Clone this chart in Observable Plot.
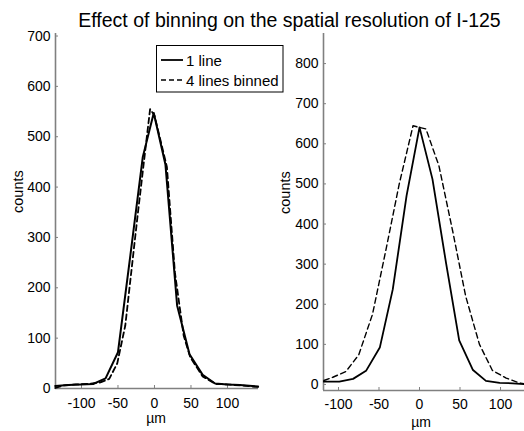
<!DOCTYPE html>
<html><head><meta charset="utf-8">
<script src="https://cdn.jsdelivr.net/npm/d3@7"></script>
<script src="https://cdn.jsdelivr.net/npm/@observablehq/plot@0.6"></script>
<style>
html,body{margin:0;padding:0;background:#fff;overflow:hidden;}
#wrap{position:relative;width:524px;height:431px;font-family:"Liberation Sans",Arial,Helvetica,sans-serif;}
#title{position:absolute;left:56px;top:11px;width:467px;text-align:center;font-size:19.5px;line-height:19px;white-space:nowrap;color:#000;}
.panel{position:absolute;top:0;max-width:none !important;}
#legend{position:absolute;left:156px;top:45px;}
#legend text{font-size:15px;font-family:"Liberation Sans",Arial,Helvetica,sans-serif;}
</style></head><body>
<div id="wrap"><div id="title">Effect of binning on the spatial resolution of I-125</div></div>
<script>
// ---- data ----
const titleText = "Effect of binning on the spatial resolution of I-125";
const seriesNames = ["1 line", "4 lines binned"];
const xTicks = [-100, -50, 0, 50, 100];
const leftYTicks = [0, 100, 200, 300, 400, 500, 600, 700];
const rightYTicks = [0, 100, 200, 300, 400, 500, 600, 700, 800];

const leftSingleX = [-136, -118, -101, -84, -67, -50, -33, -16, -1, 15, 31, 48, 66, 83, 100, 117, 134, 142];
const leftSingleCounts = [5, 7, 8, 9, 20, 72, 265, 460, 547, 445, 165, 68, 27, 10, 8, 7, 5, 4];
const leftBinnedX = [-136, -125, -108, -91, -74, -62, -51, -40, -23, -6, 0, 17, 28, 40, 49, 66, 84, 101, 118, 142];
const leftBinnedCounts = [1, 6, 8, 9, 12, 19, 50, 125, 345, 555, 542, 440, 230, 105, 62, 24, 9, 8, 6, 3];

const rightSingleX = [-118, -99, -82, -66, -49, -33, -16, 0, 16, 33, 49, 66, 82, 99, 115, 129];
const rightSingleCounts = [7, 7, 14, 34, 92, 237, 470, 641, 512, 300, 110, 36, 9, 4, 3, 1];
const rightBinnedX = [-118, -107, -91, -75, -58, -41, -25, -8, 8, 24, 41, 57, 74, 90, 107, 123, 129];
const rightBinnedCounts = [10, 18, 32, 74, 175, 340, 500, 645, 637, 545, 382, 220, 100, 35, 16, 4, 2];

const xLabel = "µm";
const yLabel = "counts";

// ---- drawing ----
const FONT = "'Liberation Sans', Arial, Helvetica, sans-serif";
const AXIS = "#808080";

function panel(o) {
  const single = o.sx.map((x, i) => ({x, y: o.sy[i]}));
  const binned = o.bx.map((x, i) => ({x, y: o.by[i]}));
  return Plot.plot({
    width: o.width, height: 431,
    marginLeft: o.ml, marginRight: o.mr, marginTop: o.mt, marginBottom: o.mb,
    style: {fontFamily: FONT, fontSize: "14px", background: "transparent", color: "black", overflow: "visible"},
    x: {domain: o.xDomain},
    y: {domain: o.yDomain},
    marks: [
      Plot.ruleX([o.xDomain[0]], {stroke: AXIS, strokeWidth: 1.6}),
      Plot.ruleY([o.yDomain[0]], {stroke: AXIS, strokeWidth: 1.6}),
      Plot.axisX({ticks: xTicks, tickSize: 0, tickPadding: o.xpad, tickFormat: d => String(d), label: null, fontSize: 14}),
      Plot.axisX({ticks: xTicks, tickSize: 3, dy: -3, text: null, label: null, stroke: AXIS}),
      Plot.axisY({ticks: o.yTicks, tickSize: 0, tickPadding: 5, tickFormat: d => String(d), label: null, fontSize: 14}),
      Plot.axisY({ticks: o.yTicks, tickSize: 3, dx: 3, text: null, label: null, stroke: AXIS}),
      Plot.line(binned, {x: "x", y: "y", stroke: "black", strokeWidth: o.wb, strokeDasharray: "5.5,3.5"}),
      Plot.line(single, {x: "x", y: "y", stroke: "black", strokeWidth: o.ws}),
      Plot.text([yLabel], {text: d => d, frameAnchor: "left", dx: o.ylx, dy: 2, rotate: -90, fontSize: 14.5}),
      Plot.text([xLabel], {text: d => d, frameAnchor: "bottom", dy: o.xly, dx: o.xlx, fontSize: 14})
    ]
  });
}

const wrap = document.getElementById("wrap");

const left = panel({
  width: 262, ml: 55, mr: 4, mt: 33, mb: 43,
  xDomain: [-135.6, 142.5], yDomain: [0, 705], yTicks: leftYTicks,
  sx: leftSingleX, sy: leftSingleCounts, bx: leftBinnedX, by: leftBinnedCounts,
  ws: 2, wb: 1.8, xpad: 10, ylx: -37, xlx: -1, xly: 34.5
});
left.classList.add("panel");
left.style.left = "0px";
wrap.appendChild(left);

const right = panel({
  width: 262, ml: 61, mr: 0, mt: 33, mb: 41,
  xDomain: [-118.5, 129.6], yDomain: [-15, 875], yTicks: rightYTicks,
  sx: rightSingleX, sy: rightSingleCounts, bx: rightBinnedX, by: rightBinnedCounts,
  ws: 1.8, wb: 1.4, xpad: 9, ylx: -38, xlx: -3, xly: 36.5
});
right.classList.add("panel");
right.style.left = "262px";
wrap.appendChild(right);

// legend
const lg = d3.select("#wrap").append("svg").attr("id", "legend")
  .attr("width", 128).attr("height", 48);
lg.append("rect").attr("x", 0.5).attr("y", 0.5).attr("width", 126.5).attr("height", 46.5)
  .attr("fill", "white").attr("stroke", "black").attr("stroke-width", 1);
const rows = [{name: seriesNames[0], dash: null, y: 15}, {name: seriesNames[1], dash: "5,3", y: 35}];
rows.forEach(r => {
  lg.append("line").attr("x1", 5).attr("x2", 27).attr("y1", r.y).attr("y2", r.y)
    .attr("stroke", "black").attr("stroke-width", r.dash ? 1.5 : 1.8)
    .attr("stroke-dasharray", r.dash);
  lg.append("text").attr("x", 30).attr("y", r.y + 5.5).attr("fill", "black").text(r.name);
});
</script>
</body></html>
